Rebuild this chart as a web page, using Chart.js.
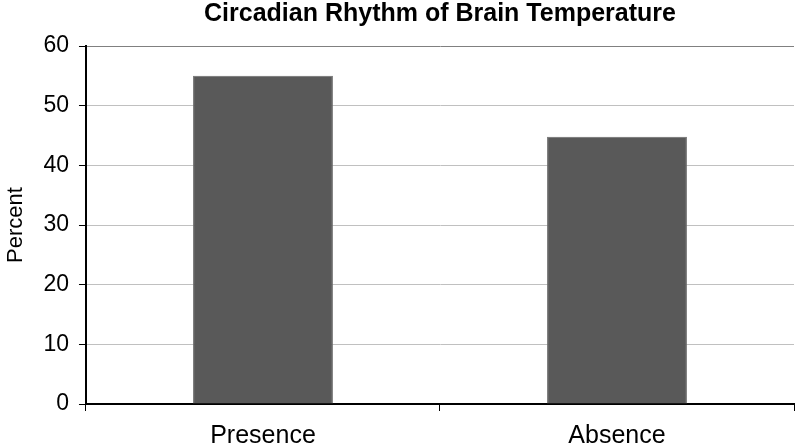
<!DOCTYPE html>
<html>
<head>
<meta charset="utf-8">
<script src="https://cdn.jsdelivr.net/npm/chart.js@4"></script>
<style>
  html, body { margin: 0; padding: 0; background: #fff; }
  canvas { display: block; }
</style>
</head>
<body>
<canvas id="c" width="797" height="445"></canvas>
<script>
const categories = ['Presence', 'Absence'];
const percentValues = [55, 44.8];
const yTicks = [0, 10, 20, 30, 40, 50, 60];
const chartTitle = 'Circadian Rhythm of Brain Temperature';
const yAxisTitle = 'Percent';

const FONT = "'Liberation Sans', Arial, sans-serif";

new Chart(document.getElementById('c'), {
  type: 'bar',
  data: {
    labels: categories,
    datasets: [{
      data: percentValues,
      backgroundColor: '#595959',
      borderColor: '#6a6a6a',
      borderWidth: 1,
      barPercentage: 0.395,
      categoryPercentage: 1.0
    }]
  },
  options: {
    responsive: false,
    animation: false,
    layout: { padding: { left: 3, right: 3, top: 2, bottom: 0 } },
    plugins: {
      legend: { display: false },
      tooltip: { enabled: false },
      title: {
        display: true,
        text: chartTitle,
        fullSize: false,
        color: '#000',
        font: { family: FONT, size: 25, weight: 'bold', lineHeight: 1 },
        padding: { top: 0, bottom: 19 }
      }
    },
    scales: {
      x: {
        offset: true,
        afterFit: (scale) => { scale.height = 41; },
        grid: {
          offset: true,
          drawOnChartArea: true,
          color: (ctx) => ctx.index === 2 ? '#808080' : 'rgba(0,0,0,0)',
          tickColor: '#000',
          tickLength: 7,
          lineWidth: 1
        },
        border: { display: true, color: '#000', width: 2 },
        ticks: {
          color: '#000',
          font: { family: FONT, size: 25 },
          padding: 10
        }
      },
      y: {
        min: 0,
        max: 60,
        afterBuildTicks: (axis) => { axis.ticks = yTicks.map(v => ({ value: v })); },
        grid: {
          color: (ctx) => (ctx.tick && ctx.tick.value === 60) ? '#808080' : '#c0c0c0',
          tickColor: '#000',
          tickLength: 7,
          lineWidth: 1
        },
        border: { display: true, color: '#000', width: 2 },
        ticks: {
          color: '#000',
          font: { family: FONT, size: 23 },
          padding: 10
        },
        title: {
          display: true,
          text: yAxisTitle,
          color: '#000',
          font: { family: FONT, size: 22 },
          padding: { top: 0, bottom: 4 }
        }
      }
    }
  }
});
</script>
</body>
</html>
